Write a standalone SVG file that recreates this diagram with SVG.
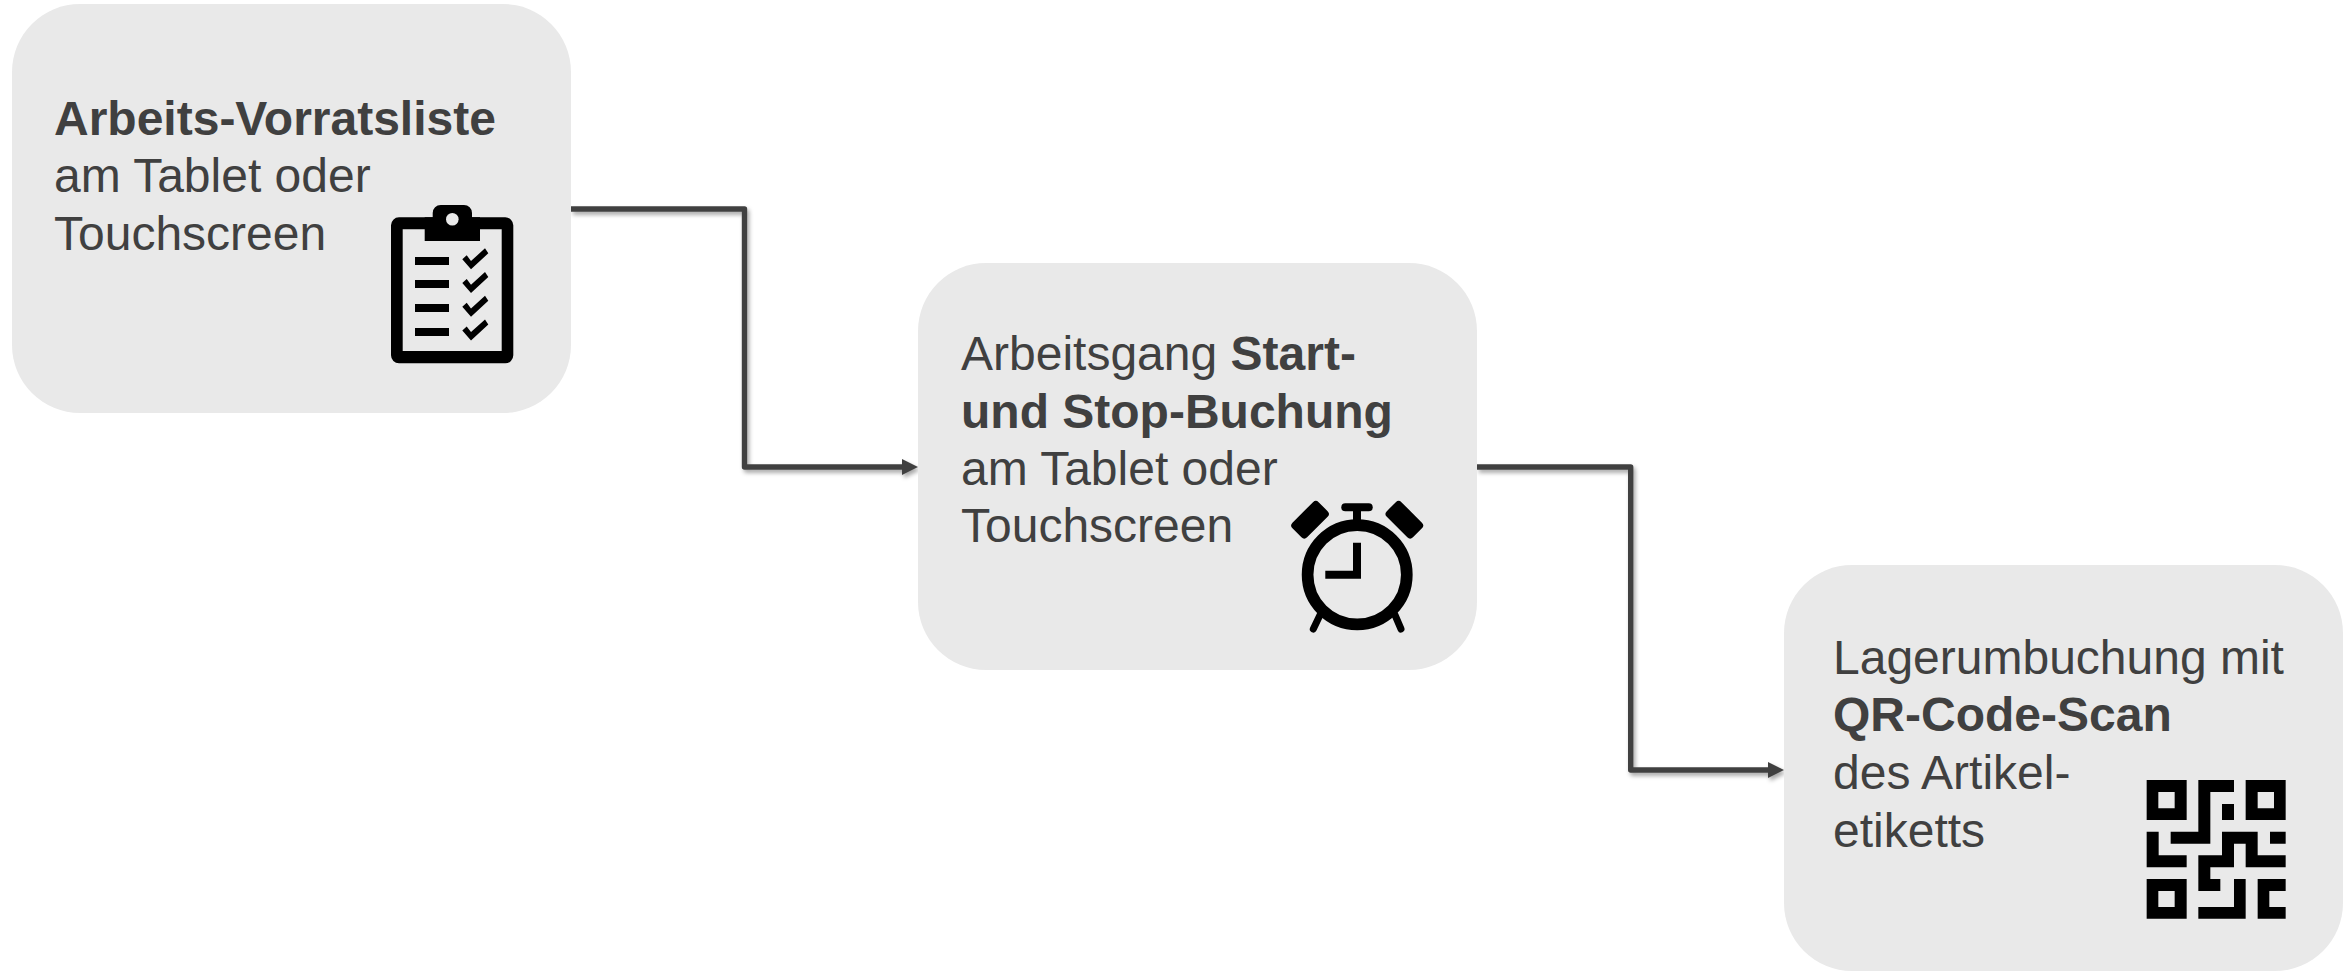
<svg xmlns="http://www.w3.org/2000/svg" width="2348" height="971" viewBox="0 0 2348 971">
<defs>
<marker id="arrow" markerUnits="userSpaceOnUse" markerWidth="16" markerHeight="16" refX="0" refY="8" orient="auto"><path d="M0 0L16 8L0 16Z" fill="#404040"/></marker>
<filter id="shadow" x="-10%" y="-10%" width="120%" height="120%"><feDropShadow dx="2" dy="3" stdDeviation="2" flood-color="#000" flood-opacity="0.35"/></filter>
<path id="check" d="M462.3 259.3L466.7 255.3L471 261L485 248.3L488.3 253.3L471 269.3Z"/>
</defs>
<style>
.box{fill:#e9e9e9}
.t{font-family:"Liberation Sans",Arial,sans-serif;font-size:48px;fill:#404040}
.b{font-weight:700}
.c{fill:none;stroke:#404040;stroke-width:5.4;stroke-linejoin:round;marker-end:url(#arrow)}
.k{fill:#000}
.leg{stroke:#000;stroke-width:7;stroke-linecap:round;fill:none}
</style>
<rect width="2348" height="971" fill="#fff"/>
<g id="connectors" filter="url(#shadow)">
<path class="c" d="M571 209H744.5V467H902"/>
<path class="c" d="M1477 467H1630.7V770H1768"/>
</g>
<g id="node1">
<rect class="box" x="12" y="4" width="559" height="409" rx="68"/>
<text class="t" x="54" y="135"><tspan class="b">Arbeits-Vorratsliste</tspan></text>
<text class="t" x="54" y="192">am Tablet oder</text>
<text class="t" x="54" y="250">Touchscreen</text>
<g id="clipboard-icon" class="k">
<path fill-rule="evenodd" d="M399 217.3H505.3a8 8 0 0 1 8 8V355.3a8 8 0 0 1-8 8H399a8 8 0 0 1-8-8V225.3a8 8 0 0 1 8-8ZM402.7 229.3V351H501.7V229.3Z"/>
<path d="M424.7 217.3H432.7V213a8 8 0 0 1 8-8H464a8 8 0 0 1 8 8V217.3H480V241H424.7Z"/>
<circle cx="452.3" cy="219.3" r="6.3" fill="#e9e9e9"/>
<rect x="415" y="257" width="34" height="8"/>
<rect x="415" y="280" width="34" height="8"/>
<rect x="415" y="304" width="34" height="8"/>
<rect x="415" y="328" width="34" height="8"/>
<use href="#check"/>
<use href="#check" y="23.7"/>
<use href="#check" y="47.4"/>
<use href="#check" y="71.1"/>
</g>
</g>
<g id="node2">
<rect class="box" x="918" y="263" width="559" height="407" rx="68"/>
<text class="t" x="961" y="369.5">Arbeitsgang <tspan class="b">Start-</tspan></text>
<text class="t b" x="961" y="427.5">und Stop-Buchung</text>
<text class="t" x="961" y="484.5">am Tablet oder</text>
<text class="t" x="961" y="542">Touchscreen</text>
<g id="clock-icon" class="k">
<rect x="1291.5" y="509.4" width="37" height="20.7" rx="4" transform="rotate(-45 1310 519.7)"/>
<rect x="1385.9" y="509.4" width="37" height="20.7" rx="4" transform="rotate(45 1404.4 519.7)"/>
<rect x="1341.3" y="503.3" width="31.4" height="8" rx="4"/>
<rect x="1353" y="508" width="8" height="14"/>
<circle cx="1357.2" cy="574.7" r="49.6" fill="none" stroke="#000" stroke-width="11.7"/>
<path d="M1353 542.7H1361V578.7H1325.3V570.7H1353Z"/>
<path class="leg" d="M1320 615L1313.3 629"/>
<path class="leg" d="M1395 615L1401 629"/>
</g>
</g>
<g id="node3">
<rect class="box" x="1784" y="565" width="559" height="406" rx="68"/>
<text class="t" x="1833" y="674">Lagerumbuchung mit</text>
<text class="t b" x="1833" y="731">QR-Code-Scan</text>
<text class="t" x="1833" y="789">des Artikel-</text>
<text class="t" x="1833" y="846.5">etiketts</text>
<path id="qr-icon" class="k" fill-rule="evenodd" transform="translate(2130 770) scale(0.33333)" d="M50 30H170V150H50ZM85 66V115H134V66ZM347 30H467V150H347ZM383 66V115H432V66ZM50 327H170V446H50ZM85 363V411H134V363ZM205 30H312V66H241V221H122V185H205ZM276 102H312V150H276ZM420 185H467V221H420ZM50 185H86V256H170V292H50ZM276 185H383V256H467V292H347V221H312V292H241V327H271V363H205V256H276ZM312 327H347V446H205V411H312ZM383 327H467V363H418V411H467V446H383Z"/>
</g>
</svg>
